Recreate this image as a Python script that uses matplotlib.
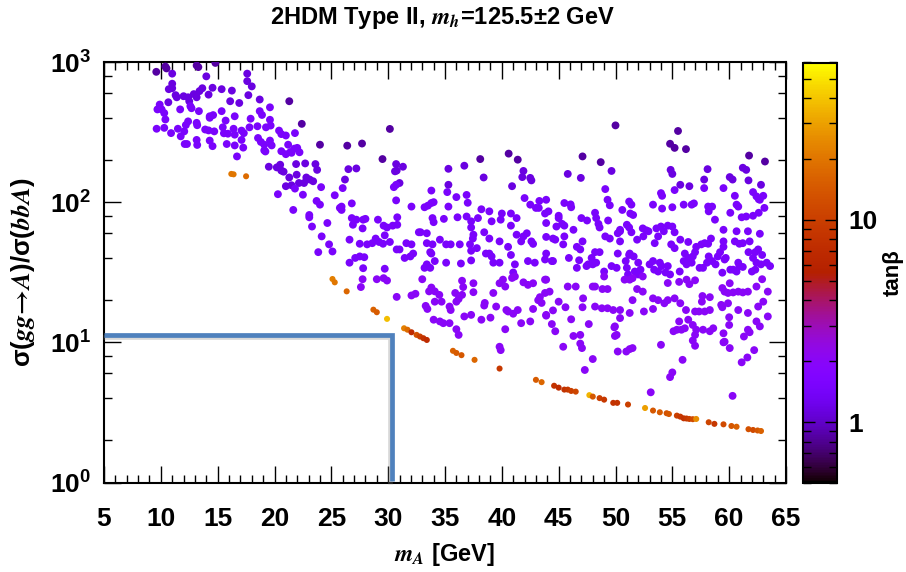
import matplotlib
matplotlib.use('Agg')
import matplotlib.pyplot as plt
import matplotlib.patheffects as pe
from matplotlib.colors import LogNorm
from matplotlib.ticker import MultipleLocator, LogLocator, FixedLocator, FuncFormatter, NullFormatter
import numpy as np

plt.rcParams['font.family'] = ['Liberation Sans', 'DejaVu Sans']
plt.rcParams['font.weight'] = 'bold'
plt.rcParams['axes.labelweight'] = 'bold'
plt.rcParams['mathtext.fontset'] = 'stix'

# (m_A [GeV], sigma(gg->A)/sigma(bbA)), grouped by tan(beta)
tb_dark, tb_hi, tb_mid, tb_lo = 0.85, 1.15, 1.5, 2.0

purple_dark = [(9.6, 851), (10.4, 928), (10.5, 900), (13.15, 945), (13.3, 920), (14.8, 985), (21.3, 525),
               (22.4, 362), (24.0, 257), (26.4, 253), (27.7, 262), (29.5, 203), (30.15, 333), (38.1, 203),
               (40.6, 222), (41.4, 201), (47.1, 212), (48.7, 193), (50.0, 353), (54.8, 261), (55.2, 244),
               (56.2, 239), (55.5, 322), (61.75, 215), (63.15, 195)]

purple_hi = [(11.0, 826), (14.0, 790), (17.6, 826), (17.6, 730), (18.0, 670), (11.0, 700), (10.7, 640),
             (11.0, 650), (11.3, 580), (11.4, 560), (12.0, 570), (12.4, 560), (12.5, 525), (12.9, 590),
             (13.15, 560), (13.4, 620), (13.65, 650), (14.2, 585), (14.55, 655), (15.35, 640), (16.25, 625),
             (16.1, 525), (16.9, 510), (17.7, 580), (18.7, 540), (10.66, 516),
             (26.5, 172), (27.2, 174), (26.2, 145), (30.7, 187), (31.3, 179), (30.6, 166), (30.75, 168),
             (31.0, 137), (35.3, 173), (36.7, 182), (38.4, 150), (41.9, 167), (41.8, 151), (42.5, 149),
             (42.6, 143), (35.3, 133), (40.9, 130), (49.65, 167), (45.8, 159), (46.95, 149), (61.2, 176),
             (61.5, 170), (61.7, 143), (62.8, 133), (60.05, 151), (60.3, 145), (58.1, 172), (57.8, 145),
             (54.85, 170), (55.0, 159), (55.7, 133), (56.5, 130), (23.75, 170), (21.95, 157), (21.3, 150),
             (22.8, 150), (23.1, 145), (23.4, 141), (22.15, 137), (22.6, 137), (21.5, 132), (21.0, 130),
             (19.5, 179), (20.2, 177), (20.5, 185), (20.6, 168), (20.8, 165), (21.9, 187), (22.7, 189),
             (23.6, 187)]

purple_mid = [(19.6, 475), (9.9, 497), (10.07, 459), (9.7, 459), (10.3, 432), (10.4, 389), (9.63, 334),
              (10.3, 339), (10.9, 311), (11.5, 334), (11.75, 295), (12.06, 320), (12.2, 355), (12.4, 377),
              (11.7, 459), (12.6, 484), (12.7, 468), (13.35, 446), (13.15, 368), (13.2, 354), (13.9, 330),
              (14.2, 325), (14.3, 410), (14.6, 418), (14.3, 400), (14.7, 320), (15.45, 342), (15.55, 310),
              (15.9, 308), (16.4, 334), (16.5, 303), (16.5, 410), (15.7, 382), (15.35, 446), (17.1, 324),
              (17.3, 311), (17.8, 342), (17.9, 394), (18.5, 348), (18.7, 446), (18.9, 419), (19.6, 387),
              (19.66, 352), (19.25, 342), (20.4, 324), (20.6, 306), (21.0, 299), (21.8, 311), (12.1, 260),
              (12.3, 260), (13.15, 278), (13.2, 256), (14.3, 275), (14.55, 251), (15.8, 260), (16.5, 254),
              (17.25, 245), (17.1, 278), (18.55, 287), (18.8, 269), (19.1, 257), (19.6, 275), (19.75, 254),
              (19.1, 234), (16.7, 212), (20.6, 231), (21.0, 220), (21.2, 257), (21.5, 225), (21.75, 241),
              (22.0, 244), (22.2, 227), (19.2, 230), (21.4, 228), (21.8, 125), (24.1, 128), (25.3, 112),
              (20.3, 114), (22.5, 113), (23.7, 102), (24.0, 96), (21.65, 88), (23.06, 81), (23.06, 78),
              (23.3, 67), (24.65, 71), (24.15, 57), (24.8, 50), (23.85, 44), (25.1, 44.5), (25.75, 91),
              (26.0, 126), (30.5, 128), (30.7, 133), (30.7, 103), (32.05, 93), (32.7, 61), (25.9, 93),
              (25.9, 88), (26.8, 98), (26.9, 69), (26.8, 77), (27.2, 75), (27.8, 75), (28.0, 76), (27.75, 65),
              (26.6, 54), (27.5, 50.5), (28.15, 50), (28.6, 51), (28.9, 55), (29.2, 52), (29.55, 50.5),
              (29.7, 58), (30.15, 52), (29.1, 75), (29.6, 68), (29.9, 66), (30.4, 68), (30.8, 69), (30.8, 78),
              (30.75, 46), (31.0, 46), (31.6, 51), (32.05, 50), (32.2, 43), (31.95, 41), (31.45, 40),
              (27.1, 40), (27.5, 41), (27.9, 40.5), (26.6, 37), (27.8, 33.8), (29.7, 33.5),
              (33.8, 121), (35.2, 118), (36.0, 108.7), (36.9, 112.6), (37.0, 99), (42.0, 107), (43.3, 102),
              (42.5, 96), (43.0, 91), (43.25, 91), (44.1, 86), (43.9, 71), (33.2, 92), (33.5, 94.5),
              (33.8, 98.6), (34.0, 100), (35.3, 93), (32.85, 61), (33.4, 60), (33.9, 77), (34.0, 72),
              (34.9, 76), (36.1, 78), (36.9, 79), (37.3, 73), (37.3, 66), (37.5, 58.6), (37.45, 55),
              (38.2, 89), (37.9, 77), (38.9, 86), (40.0, 83), (39.9, 75), (40.8, 83), (41.3, 77), (40.8, 68),
              (41.3, 58.6), (41.9, 57), (42.2, 60), (42.6, 52.5), (42.75, 50.4), (41.7, 52.5), (43.9, 56.5),
              (43.9, 43), (33.4, 51), (33.9, 50), (33.7, 44), (34.55, 54), (35.1, 50), (35.5, 50), (36.3, 50),
              (37.2, 50), (33.8, 43), (34.1, 38), (33.4, 36), (33.7, 34), (33.2, 34), (35.1, 37), (36.4, 36.5),
              (37.3, 45), (37.3, 38.4), (37.8, 47), (38.6, 43), (38.9, 43), (39.1, 41), (39.25, 37),
              (39.8, 37), (40.8, 42), (41.15, 36), (41.0, 31.5), (42.3, 38), (42.9, 37), (38.9, 55),
              (39.8, 52.5), (38.45, 61), (39.1, 73), (40.55, 48), (43.8, 39), (43.9, 104),
              (49.1, 124), (49.3, 104), (49.5, 95), (62.1, 118), (62.4, 110), (62.7, 104), (63.0, 111),
              (63.1, 91), (59.5, 126), (60.5, 111), (60.65, 96), (60.8, 93), (60.1, 84), (61.1, 78),
              (61.5, 79), (62.1, 80), (62.6, 84), (57.8, 126), (55.2, 122), (54.1, 111), (55.0, 92),
              (56.0, 96), (56.7, 96), (56.9, 98), (53.3, 96), (54.1, 90), (58.15, 93), (58.5, 93), (58.2, 86),
              (58.75, 75), (43.8, 83), (45.5, 98.6), (46.05, 96.4), (46.1, 92), (48.2, 84), (48.3, 77),
              (48.5, 70), (48.6, 66), (47.5, 74), (47.0, 77), (49.35, 74), (50.6, 88), (51.4, 96),
              (51.55, 81), (51.3, 83), (51.0, 69), (51.2, 66), (51.4, 61), (50.4, 62), (52.4, 65), (52.7, 63),
              (52.9, 62), (52.45, 57), (51.9, 54), (54.0, 67), (54.6, 68), (55.0, 67), (54.25, 62),
              (55.2, 61), (55.7, 54), (56.4, 52), (57.1, 48), (57.55, 50), (57.85, 51), (58.15, 50.5),
              (57.0, 44), (56.8, 41), (58.4, 55), (59.5, 63.5), (59.5, 52.5), (59.5, 48), (60.5, 52.5),
              (60.9, 50.5), (61.8, 52.5), (61.2, 51), (61.7, 44), (62.3, 44), (62.55, 46), (62.9, 42),
              (62.1, 40), (62.4, 37), (62.8, 36), (62.3, 33), (62.0, 32), (63.3, 37), (63.6, 35), (60.1, 33),
              (60.35, 33), (60.65, 32), (60.9, 35), (61.2, 34.5), (60.8, 37), (59.6, 39), (59.7, 40),
              (59.4, 31.4), (58.8, 36), (59.0, 41), (59.2, 44), (58.05, 37), (58.5, 38), (58.2, 41),
              (57.7, 34), (57.4, 34), (56.1, 43), (56.4, 40), (56.0, 38), (56.7, 37), (56.25, 36),
              (55.65, 32), (54.6, 35), (54.4, 31.5), (54.8, 30.5), (53.3, 38), (53.0, 36), (53.4, 33),
              (53.9, 37), (54.05, 35), (53.75, 32), (51.6, 41), (52.0, 37), (52.2, 33), (51.7, 32),
              (52.0, 30.5), (51.2, 42), (50.9, 38), (51.0, 34), (51.1, 30.5), (50.2, 43), (50.1, 34),
              (49.65, 35), (50.4, 52.5), (50.2, 60), (50.4, 63.5), (49.0, 32), (48.6, 44), (48.3, 37),
              (48.0, 36), (47.6, 36), (47.45, 35), (47.9, 40), (46.8, 38.5), (46.6, 34), (45.9, 40),
              (45.4, 50), (45.5, 57), (44.7, 54), (44.5, 55), (44.8, 67), (45.0, 80), (45.3, 70), (45.5, 68),
              (44.4, 38), (44.5, 38), (48.2, 44), (53.6, 65), (53.75, 57), (53.45, 51), (54.9, 50),
              (55.2, 47), (51.25, 43), (49.5, 55), (49.1, 57), (47.1, 52.5), (46.6, 48), (46.9, 46),
              (46.3, 63.5), (45.0, 77), (51.2, 101), (54.0, 116), (62.6, 105), (60.65, 62), (61.65, 62),
              (62.7, 59.5)]

purple_lo = [(29.0, 28.2), (29.6, 28.7), (29.9, 27.6), (27.75, 28.2), (27.6, 24.8), (30.75, 21.1), (32.05, 21.6),
             (32.4, 22.2), (41.15, 29.5), (40.9, 28.8), (41.9, 26.8), (42.3, 25.7), (42.75, 26.4), (43.9, 28),
             (33.0, 28.2), (33.8, 24.6), (33.6, 23.1), (34.1, 23.1), (34.5, 21.8), (34.7, 19.5), (34.1, 19.5),
             (35.9, 22.5), (36.5, 21.8), (36.6, 24.8), (37.5, 22.8), (35.4, 18), (35.5, 17), (36.0, 19.5),
             (36.2, 20.4), (38.5, 19.1), (38.45, 18.3), (39.5, 18), (39.0, 15), (40.4, 17), (40.55, 16.6),
             (41.4, 17), (33.3, 18.2), (33.45, 17.3), (34.0, 14.5), (34.55, 14.1), (34.85, 13.7), (35.4, 13.7),
             (36.0, 12.4), (36.2, 11.3), (36.7, 15.3), (37.3, 15.7), (38.2, 14.5), (40.3, 12.4), (41.7, 13.7),
             (42.5, 14.1), (41.0, 16.0), (42.75, 17.3), (43.9, 15.7), (43.5, 19.1), (43.2, 20), (39.8, 26.4),
             (40.3, 25), (40.1, 28), (39.25, 22.5), (36.5, 27.5), (37.5, 26.4),
             (55.6, 27), (56.25, 28), (57.0, 27.7), (56.5, 26), (54.6, 26.5), (51.5, 28.7), (52.4, 29.5),
             (51.25, 28), (50.8, 28), (49.0, 29.5), (43.8, 28), (45.8, 25), (46.5, 25), (47.15, 20.6),
             (47.1, 17.8), (48.0, 25), (48.2, 25), (48.85, 24), (49.3, 24), (43.35, 21), (43.8, 22.5),
             (44.2, 23), (45.0, 19.5), (45.6, 17.8), (44.5, 16.9), (43.9, 15.5), (44.4, 13.5), (44.7, 12),
             (46.1, 14.6), (46.3, 11.1), (46.9, 11.3), (47.65, 13.5), (48.2, 18), (48.8, 17.5), (49.3, 17.5),
             (49.8, 17), (50.4, 17), (49.95, 13), (50.1, 11.3), (50.4, 14.9), (51.25, 16.2), (51.5, 20),
             (51.9, 24), (52.4, 23), (53.3, 20.6), (53.75, 20), (54.3, 19), (54.6, 20), (55.2, 20.6),
             (52.5, 16.6), (53.3, 17.3), (55.7, 19), (56.2, 17), (56.4, 14.5), (55.6, 14.1), (57.0, 16.6),
             (57.35, 16.6), (57.85, 16.6), (58.3, 17), (57.6, 19.5), (58.3, 21), (57.65, 21.4), (56.1, 12.6),
             (56.8, 13.3), (57.1, 12.3), (57.7, 12.3), (58.6, 12.6), (58.3, 12), (59.4, 24.4), (59.6, 23),
             (59.9, 22.5), (60.35, 22.7), (60.8, 23), (61.2, 22.7), (61.65, 23), (60.05, 26.4), (59.3, 18.5),
             (59.4, 17.8), (59.9, 19), (60.8, 17), (61.65, 16.2), (62.55, 18), (63.0, 19.5), (63.4, 23),
             (60.0, 15.1), (60.0, 13.3), (61.65, 12.3), (61.8, 11.8), (62.4, 14.1), (62.7, 13), (63.4, 15.3),
             (55.1, 12), (55.4, 12.3), (55.8, 12.3), (57.0, 11.3), (59.5, 11.6), (61.3, 11), (62.9, 28.2),
             (62.4, 25),
             (39.8, 9.3), (39.9, 8.8), (45.4, 9.3), (46.9, 9.8), (47.05, 9.1), (48.0, 7.6), (47.3, 6.35),
             (50.2, 8.6), (50.95, 8.6), (51.25, 8.95), (51.5, 9.1), (54.0, 9.6), (55.9, 7.5), (55.0, 6.1),
             (54.8, 5.65), (53.1, 4.4), (60.3, 4.15), (61.1, 7.2), (61.6, 7.8), (62.2, 8.8), (59.5, 10),
             (60.05, 9.1), (57.0, 9.45), (56.8, 10.3), (49.9, 12.8), (49.95, 11.1), (59.6, 10.1)]

# lower band: (m_A, ratio, tan beta)
band = [(16.2, 159, 20), (16.4, 158, 20), (17.5, 153, 18),
        (25.1, 28.3, 22), (25.3, 26.8, 20), (26.35, 23.1, 17),
        (28.7, 17.1, 16), (29.0, 16.4, 15), (29.9, 14.7, 38),
        (31.4, 12.6, 22), (31.7, 12.3, 18), (32.05, 11.8, 7), (32.5, 11.3, 13), (32.8, 11.0, 10),
        (33.1, 10.7, 8), (33.4, 10.4, 7),
        (35.7, 8.7, 16), (36.0, 8.4, 15), (36.45, 8.1, 14), (37.6, 7.5, 17), (39.8, 6.5, 9),
        (43.0, 5.4, 15), (43.5, 5.2, 17), (44.6, 4.9, 8), (45.0, 4.75, 7), (45.5, 4.6, 8), (45.8, 4.6, 9),
        (46.1, 4.5, 10), (46.5, 4.45, 11),
        (47.7, 4.2, 35), (48.0, 4.1, 14), (48.6, 4.0, 10), (49.0, 3.9, 9), (49.8, 3.7, 8), (50.15, 3.7, 8),
        (51.1, 3.6, 10),
        (52.6, 3.4, 30), (53.3, 3.26, 14), (53.9, 3.17, 15), (54.5, 3.12, 13), (54.7, 3.08, 14),
        (55.4, 3.0, 10), (55.7, 2.95, 9), (56.0, 2.87, 8), (56.25, 2.86, 9), (56.5, 2.84, 10),
        (56.8, 2.83, 12), (57.1, 2.84, 25),
        (58.2, 2.69, 11), (58.7, 2.62, 9), (59.5, 2.6, 12), (60.2, 2.53, 14), (60.65, 2.5, 16),
        (61.7, 2.4, 13), (62.1, 2.37, 12), (62.5, 2.35, 14), (62.8, 2.33, 16)]

# blue box corner
box_x = 30.3
box_y = 11.3

fig = plt.figure(figsize=(9.06, 5.72), dpi=100)
ax = fig.add_axes([104 / 906, 1 - 482.5 / 572, 682 / 906, 420.5 / 572])
cax = fig.add_axes([803 / 906, 1 - 483 / 572, 34 / 906, 420.5 / 572])

norm = LogNorm(vmin=0.5, vmax=60)
cmap = plt.get_cmap('gnuplot')

for pts, tb in [(purple_dark, tb_dark), (purple_hi, tb_hi), (purple_mid, tb_mid), (purple_lo, tb_lo)]:
    xy = np.array(pts).T
    ax.scatter(xy[0], xy[1], c=np.full(xy.shape[1], tb), cmap=cmap, norm=norm, s=32, linewidths=0, zorder=3)

bd = np.array(band).T
sc = ax.scatter(bd[0], bd[1], c=bd[2], cmap=cmap, norm=norm, s=19, linewidths=0, zorder=3)

ax.plot([5, box_x, box_x], [box_y, box_y, 1.02], color='#4F81BD', lw=3.4, solid_joinstyle='miter',
        solid_capstyle='butt', zorder=4, clip_on=False,
        path_effects=[pe.SimpleLineShadow(offset=(-1.0, -1.8), shadow_color='gray', alpha=0.3), pe.Normal()])

ax.set_xlim(5, 65)
ax.set_yscale('log')
ax.set_ylim(1, 1000)
ax.xaxis.set_major_locator(MultipleLocator(5))
ax.xaxis.set_minor_locator(MultipleLocator(1))
ax.yaxis.set_major_locator(LogLocator(base=10, numticks=10))
ax.yaxis.set_minor_locator(LogLocator(base=10, subs=[2, 4, 6, 8], numticks=10))
ax.yaxis.set_major_formatter(FuncFormatter(lambda v, p: r'$\mathregular{10^{%d}}$' % round(np.log10(v))))
ax.yaxis.set_minor_formatter(NullFormatter())
ax.tick_params(which='both', direction='in', top=True, right=True, width=1.0, colors='black')
ax.tick_params(which='major', length=12, labelsize=19)
ax.tick_params(which='minor', length=6)
ax.tick_params(axis='x', which='major', pad=18)
ax.tick_params(axis='y', which='major', pad=9)
for sp in ax.spines.values():
    sp.set_linewidth(1.5)

ax.set_xlabel(r'$m_A$ [GeV]', fontsize=17)
ax.xaxis.set_label_coords(0.5, -0.14)
ax.set_ylabel(r'σ($gg\!\rightarrow\! A$)/σ($bbA$)', fontsize=18.5)
ax.yaxis.set_label_coords(-0.098, 0.5)

fig.text(442 / 906, 1 - 18 / 572, r'2HDM Type II, $m_h$=125.5±2 GeV', ha='center', va='center', fontsize=17)

cb = fig.colorbar(sc, cax=cax)
cb.outline.set_linewidth(1.5)
cb.set_ticks([1, 10])
cax.yaxis.set_major_formatter(FuncFormatter(lambda v, p: '%g' % v))
cax.yaxis.set_minor_locator(LogLocator(base=10, subs=np.arange(2, 10), numticks=10))
cax.yaxis.set_minor_formatter(NullFormatter())
cax.tick_params(which='both', direction='in', left=True, right=True, width=1.0)
cax.tick_params(which='major', length=8.5, labelsize=19, pad=8)
cax.tick_params(which='minor', length=5.5)
cax.set_ylabel('tanβ', fontsize=16, fontweight='bold')
cax.yaxis.set_label_coords(2.35, 0.5)

fig.savefig('out.png', dpi=100)
